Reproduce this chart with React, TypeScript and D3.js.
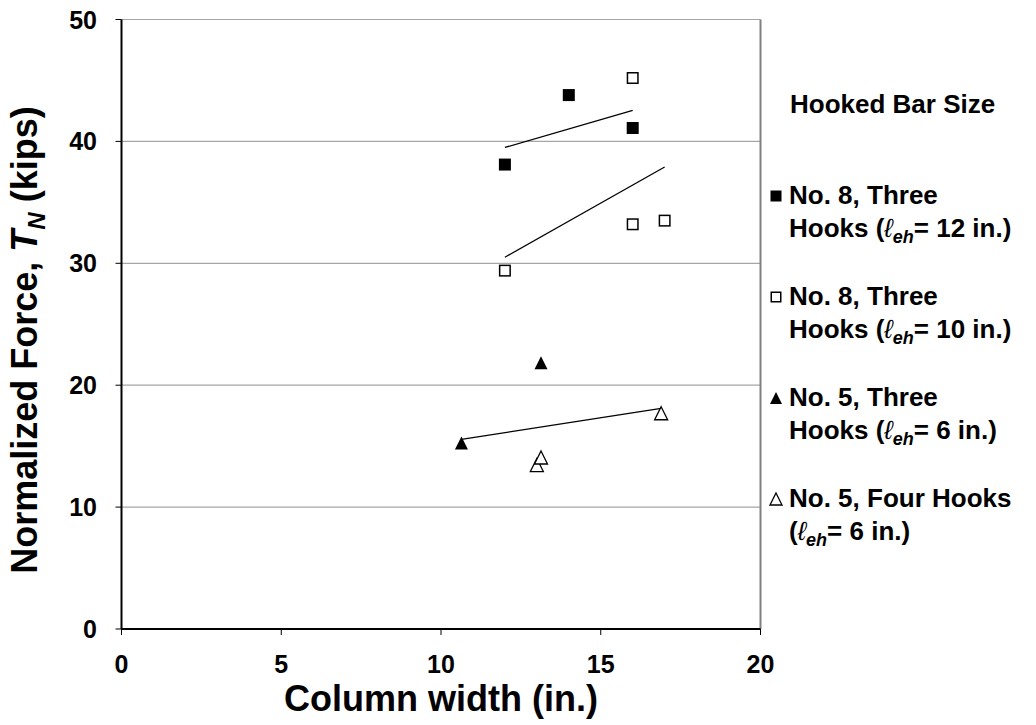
import React from "react";
import * as d3 from "d3";

// filled squares: No. 8, three hooks, leh = 12 in.
const n8a_x = [12, 14, 16];
const n8a_y = [38.1, 43.8, 41.1];
// open squares: No. 8, three hooks, leh = 10 in.
const n8b_x = [12, 16, 16, 17];
const n8b_y = [29.4, 45.2, 33.2, 33.5];
// filled triangles: No. 5, three hooks
const n5a_x = [10.64, 13.13];
const n5a_y = [15.25, 21.85];
// open triangles: No. 5, four hooks
const n5b_x = [13.0, 13.13, 16.89];
const n5b_y = [13.45, 14.07, 17.7];

// trend lines (end points)
const trendA_x = [12, 16];
const trendA_y = [39.5, 42.55];
const trendB_x = [12, 17];
const trendB_y = [30.5, 37.9];
const trendC_x = [10.64, 16.89];
const trendC_y = [15.55, 18.1];

const xTicks = [0, 5, 10, 15, 20];
const yTicks = [0, 10, 20, 30, 40, 50];
const gridTicks = [10, 20, 30, 40];

const W = 1036;
const H = 725;
const FONT = "'Liberation Sans', Arial, sans-serif";

const x = d3.scaleLinear().domain([0, 20]).range([121.5, 760.5]);
const y = d3.scaleLinear().domain([0, 50]).range([629, 19.5]);

const line = d3
  .line<[number, number]>()
  .x((d) => x(d[0]))
  .y((d) => y(d[1]));

const zip = (a: number[], b: number[]) => a.map((v, i) => [v, b[i]] as [number, number]);

const tri = (cx: number, cy: number, s = 13) =>
  `M${cx},${cy - s / 2}L${cx + s / 2},${cy + s / 2}L${cx - s / 2},${cy + s / 2}Z`;

const Marker = ({ kind, cx, cy, s }: { kind: string; cx: number; cy: number; s?: number }) => {
  const size = s ?? 12;
  if (kind === "sqFill")
    return <rect x={cx - size / 2} y={cy - size / 2} width={size} height={size} fill="#000" />;
  if (kind === "sqOpen")
    return (
      <rect x={cx - size / 2 + 0.75} y={cy - size / 2 + 0.75} width={size - 1.5} height={size - 1.5}
        fill="#fff" stroke="#000" strokeWidth={1.5} />
    );
  if (kind === "triFill") return <path d={tri(cx, cy, size + 1)} fill="#000" />;
  return <path d={tri(cx, cy, size + 1)} fill="#fff" stroke="#000" strokeWidth={1.3} />;
};

const series = [
  { kind: "sqFill", xs: n8a_x, ys: n8a_y },
  { kind: "sqOpen", xs: n8b_x, ys: n8b_y },
  { kind: "triFill", xs: n5a_x, ys: n5a_y },
  { kind: "triOpen", xs: n5b_x, ys: n5b_y },
];

const trends = [
  zip(trendA_x, trendA_y),
  zip(trendB_x, trendB_y),
  zip(trendC_x, trendC_y),
];

const legend = [
  { kind: "sqFill", l1: "No. 8, Three", pre: "Hooks (", post: "= 12 in.)" },
  { kind: "sqOpen", l1: "No. 8, Three", pre: "Hooks (", post: "= 10 in.)" },
  { kind: "triFill", l1: "No. 5, Three", pre: "Hooks (", post: "= 6 in.)" },
  { kind: "triOpen", l1: "No. 5, Four Hooks", pre: "(", post: "= 6 in.)" },
];

export default function App() {
  return (
    <svg width={W} height={H} style={{ display: "block", position: "absolute", left: 0, top: 0, background: "#fff" }}
      fontFamily={FONT} fontWeight="bold">
      {/* grid */}
      {gridTicks.map((t) => (
        <line key={t} x1={x(0)} x2={x(20)} y1={y(t)} y2={y(t)} stroke="#a6a6a6" strokeWidth={1.2} />
      ))}
      <line x1={x(0)} x2={x(20)} y1={y(50)} y2={y(50)} stroke="#a6a6a6" strokeWidth={1.2} />
      <line x1={x(20)} x2={x(20)} y1={y(50)} y2={y(0)} stroke="#808080" strokeWidth={2} />

      {/* axes */}
      <line x1={x(0)} x2={x(0)} y1={y(50)} y2={y(0)} stroke="#000" strokeWidth={2} />
      <line x1={x(0)} x2={x(20)} y1={y(0)} y2={y(0)} stroke="#000" strokeWidth={2} />
      {yTicks.map((t) => (
        <g key={t}>
          <line x1={x(0) - 6} x2={x(0)} y1={y(t)} y2={y(t)} stroke="#000" strokeWidth={1} />
          <text x={97} y={y(t)} dy="0.36em" textAnchor="end" fontSize={25}>{t}</text>
        </g>
      ))}
      {xTicks.map((t) => (
        <g key={t}>
          <line x1={x(t)} x2={x(t)} y1={y(0)} y2={y(0) + 6} stroke="#000" strokeWidth={1} />
          <text x={x(t)} y={673} textAnchor="middle" fontSize={25}>{t}</text>
        </g>
      ))}

      {/* titles */}
      <text x={x(10)} y={711} textAnchor="middle" fontSize={36}>Column width (in.)</text>
      <text transform={`translate(37,340) rotate(-90)`} textAnchor="middle" fontSize={36}>
        Normalized Force, <tspan fontStyle="italic">T</tspan>
        <tspan fontStyle="italic" fontSize={24} dy={8}>N</tspan>
        <tspan dy={-8}> (kips)</tspan>
      </text>

      {/* trend lines */}
      {trends.map((t, i) => (
        <path key={i} d={line(t) ?? ""} fill="none" stroke="#000" strokeWidth={1.3} />
      ))}

      {/* points */}
      {series.map((s) =>
        s.xs.map((v, i) => <Marker key={s.kind + i} kind={s.kind} cx={x(v)} cy={y(s.ys[i])} />)
      )}

      {/* legend */}
      <text x={790} y={113} fontSize={26}>Hooked Bar Size</text>
      {legend.map((d, i) => {
        const by = 204 + i * 101;
        return (
          <g key={i}>
            <Marker kind={d.kind} cx={776} cy={by - 8} s={11} />
            <text x={789} y={by} fontSize={26}>{d.l1}</text>
            <text x={789} y={by + 33} fontSize={26}>
              {d.pre}
              <tspan fontStyle="italic" fontWeight="normal">ℓ</tspan>
              <tspan fontStyle="italic" fontSize={18} dy={6}>eh</tspan>
              <tspan dy={-6}>{d.post}</tspan>
            </text>
          </g>
        );
      })}
    </svg>
  );
}
